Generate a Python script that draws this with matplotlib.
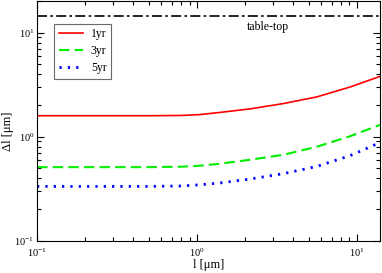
import numpy as np
import matplotlib
matplotlib.use("Agg")
import matplotlib.pyplot as plt
from matplotlib.ticker import LogLocator, NullFormatter

plt.rcParams['font.family'] = ['Liberation Serif', 'DejaVu Serif']
plt.rcParams['mathtext.fontset'] = 'stix'

# values
l_vals = [0.1, 0.3, 0.5, 0.8, 1.04, 1.39, 2.15, 3.47, 5.62, 9.08, 14.0]
dl_1yr = [1.59, 1.59, 1.59, 1.60, 1.63, 1.71, 1.85, 2.08, 2.41, 3.00, 3.80]
dl_3yr = [0.51, 0.51, 0.51, 0.515, 0.526, 0.55, 0.60, 0.67, 0.80, 1.01, 1.30]
dl_5yr = [0.333, 0.333, 0.333, 0.336, 0.345, 0.359, 0.392, 0.441, 0.518, 0.657, 0.88]
table_top = 14.3

fig = plt.figure(figsize=(3.82, 2.73), dpi=100)
ax = fig.add_axes([0.097, 0.118, 0.898, 0.879])

ax.plot(l_vals, dl_1yr, color='red', lw=1.2, ls='-', label='1yr')
ax.plot(l_vals, dl_3yr, color='#00ee00', lw=1.5, ls=(0, (5, 2.5)), label='3yr')
ax.plot(l_vals, dl_5yr, color='blue', lw=2.0, ls=(0, (0.8, 2.2)), label='5yr')
ax.axhline(table_top, color='black', lw=1.2, ls=(0, (6, 2, 1.5, 2)))
ax.text(2.8, 11.3, 'table-top', fontsize=8.5, ha='center', va='center')

ax.set_xscale('log')
ax.set_yscale('log')
ax.set_xlim(0.1, 14.0)
ax.set_ylim(0.1, 20.2)

ax.xaxis.set_minor_locator(LogLocator(base=10, subs=np.arange(2, 10)))
ax.yaxis.set_minor_locator(LogLocator(base=10, subs=np.arange(2, 10)))
ax.xaxis.set_minor_formatter(NullFormatter())
ax.yaxis.set_minor_formatter(NullFormatter())
ax.tick_params(which='both', direction='in', top=True, right=True, labelsize=7.5, width=0.8)
ax.tick_params(which='major', length=5)
ax.tick_params(which='minor', length=3)
ax.tick_params(axis='x', pad=4)
ax.tick_params(axis='y', pad=2)

ax.set_xlabel('l [μm]', fontsize=9, labelpad=0)
ax.set_ylabel('Δl [μm]', fontsize=9)
ax.yaxis.set_label_coords(-0.066, 0.457)

leg = ax.legend(loc='upper left', bbox_to_anchor=(0.05, 0.905), fontsize=8.5,
                frameon=True, fancybox=False, handlelength=2.0, handletextpad=0.7,
                borderpad=0.4, labelspacing=0.4, borderaxespad=0)
leg.get_frame().set_edgecolor('#444444')
leg.get_frame().set_linewidth(0.8)

fig.savefig('out.png', dpi=100)
